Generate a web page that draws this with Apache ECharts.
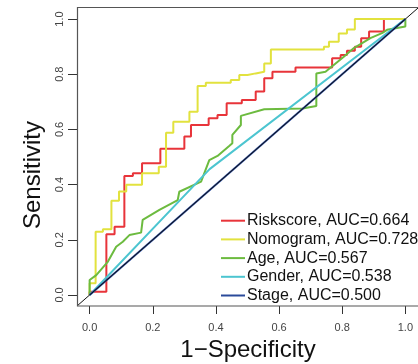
<!DOCTYPE html>
<html>
<head>
<meta charset="utf-8">
<script src="https://cdn.jsdelivr.net/npm/echarts@6/dist/echarts.min.js"></script>
<style>html,body{margin:0;padding:0;background:#fff}#c{width:418px;height:364px}</style>
</head>
<body>
<div id="c"></div>
<script>
const xTicks = [0, 0.2, 0.4, 0.6, 0.8, 1.0];
const yTicks = [0, 0.2, 0.4, 0.6, 0.8, 1.0];
const seriesNames = ['Riskscore, AUC=0.664','Nomogram, AUC=0.728','Age, AUC=0.567','Gender, AUC=0.538','Stage, AUC=0.500'];
const xTitle = '1\u2212Specificity';
const yTitle = 'Sensitivity';

const riskscorePts = [[0,0],[0,0.012],[0.053,0.012],[0.053,0.220],[0.079,0.220],[0.079,0.247],[0.110,0.247],[0.110,0.431],[0.137,0.431],[0.137,0.441],[0.166,0.441],[0.166,0.477],[0.224,0.477],[0.224,0.530],[0.300,0.530],[0.300,0.574],[0.321,0.574],[0.321,0.616],[0.377,0.616],[0.377,0.640],[0.405,0.640],[0.405,0.652],[0.434,0.652],[0.434,0.695],[0.482,0.695],[0.482,0.707],[0.526,0.707],[0.526,0.737],[0.553,0.737],[0.553,0.785],[0.579,0.785],[0.579,0.809],[0.652,0.809],[0.652,0.824],[0.768,0.824],[0.768,0.858],[0.795,0.858],[0.795,0.870],[0.815,0.870],[0.815,0.885],[0.840,0.885],[0.840,0.900],[0.860,0.900],[0.860,0.930],[0.885,0.930],[0.885,0.955],[0.932,0.955],[0.932,1.0],[1,1]];
const nomogramPts = [[0,0],[0,0.042],[0.019,0.042],[0.019,0.229],[0.042,0.229],[0.042,0.238],[0.069,0.238],[0.069,0.341],[0.093,0.341],[0.093,0.375],[0.116,0.375],[0.116,0.399],[0.166,0.399],[0.166,0.441],[0.219,0.441],[0.219,0.465],[0.242,0.465],[0.242,0.588],[0.265,0.588],[0.265,0.628],[0.316,0.628],[0.316,0.664],[0.342,0.664],[0.342,0.757],[0.368,0.757],[0.368,0.769],[0.447,0.769],[0.447,0.779],[0.474,0.779],[0.474,0.797],[0.500,0.797],[0.500,0.803],[0.526,0.803],[0.526,0.809],[0.553,0.809],[0.553,0.839],[0.574,0.839],[0.574,0.890],[0.742,0.890],[0.742,0.900],[0.758,0.900],[0.758,0.918],[0.789,0.918],[0.789,0.948],[0.815,0.948],[0.815,0.962],[0.840,0.962],[0.840,1.0],[1,1]];
const agePts = [[0,0],[0,0.054],[0.021,0.072],[0.058,0.121],[0.084,0.175],[0.105,0.193],[0.126,0.217],[0.163,0.226],[0.168,0.272],[0.221,0.308],[0.279,0.344],[0.284,0.374],[0.353,0.411],[0.379,0.489],[0.405,0.504],[0.442,0.540],[0.452,0.550],[0.452,0.580],[0.479,0.616],[0.479,0.649],[0.553,0.673],[0.674,0.676],[0.718,0.685],[0.718,0.803],[0.747,0.809],[0.779,0.839],[0.805,0.863],[0.837,0.895],[0.863,0.913],[0.889,0.931],[0.926,0.949],[0.942,0.961],[1.0,0.973],[1,1]];
const genderPts = [[0,0],[0.38,0.456],[1,1]];
const stagePts = [[0,0],[1,1]];
const refLinePts = [[-0.04,-0.04],[1.04,1.04]];

const colors = ['#e8343a','#e2e23e','#6cbb3f','#4cc5d0','#2a4a9a'];

const chart = echarts.init(document.getElementById('c'), null, {renderer:'canvas'});
const FONT = 'Liberation Sans, Arial, sans-serif';
function mk(i, pts){
  return {type:'line', name:seriesNames[i], data:pts, showSymbol:false, symbol:'none',
    lineStyle:{color:colors[i], width:2}, itemStyle:{color:colors[i]}, animation:false, z:2+i};
}
chart.setOption({
  animation:false,
  grid:{left:77, top:8, width:342, height:298},
  xAxis:{type:'value', min:-0.04, max:1.04, axisLine:{show:false, onZero:false}, splitLine:{show:false},
    axisTick:{show:true, length:8, customValues:xTicks, lineStyle:{color:'#333', width:1}},
    axisLabel:{margin:16, fontSize:11, color:'#444', fontFamily:FONT, customValues:xTicks, formatter:v=>v.toFixed(1)}},
  yAxis:{type:'value', min:-0.04, max:1.04, axisLine:{show:false, onZero:false}, splitLine:{show:false},
    axisTick:{show:true, length:9, customValues:yTicks, lineStyle:{color:'#333', width:1}},
    axisLabel:{margin:12, rotate:90, fontSize:11, color:'#444', fontFamily:FONT, customValues:yTicks, formatter:v=>v.toFixed(1)}},
  legend:{orient:'vertical', left:221, top:212.7, padding:0, itemWidth:24, itemHeight:2, itemGap:2.7, icon:'rect',
    data:seriesNames, textStyle:{fontSize:16, lineHeight:16, color:'#111', fontFamily:FONT, padding:[0,0,0,-3]}},
  graphic:[
    {type:'rect', shape:{x:77.5, y:7.5, width:342, height:298.5}, style:{fill:'none', stroke:'#555', lineWidth:1.2}, z:100},
    {type:'text', x:248, y:350, style:{text:xTitle, font:'24px '+FONT, fill:'#111', textAlign:'center', textVerticalAlign:'middle'}},
    {type:'text', x:33, y:175, rotation:Math.PI/2, style:{text:yTitle, font:'24px '+FONT, fill:'#111', textAlign:'center', textVerticalAlign:'middle'}}
  ],
  series:[
    mk(0, riskscorePts), mk(1, nomogramPts), mk(2, agePts), mk(3, genderPts), mk(4, stagePts),
    {type:'line', data:refLinePts, showSymbol:false, symbol:'none', clip:false, silent:true,
      lineStyle:{color:'#111', width:1}, animation:false, z:10}
  ]
});
</script>
</body>
</html>
